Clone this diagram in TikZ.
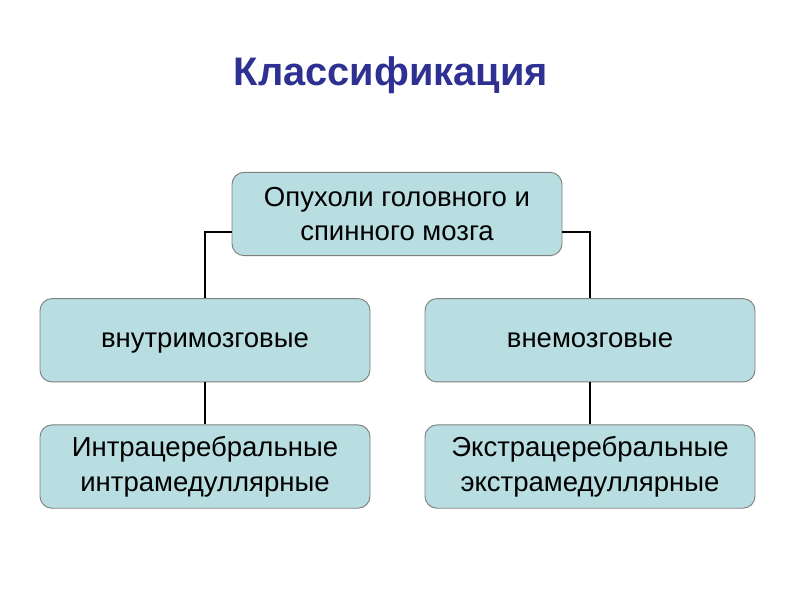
\documentclass[tikz,border=0pt]{standalone}
\usepackage{fontspec}
\setmainfont{Liberation Sans}
\usetikzlibrary{positioning}

\definecolor{boxfill}{RGB}{184,222,225}
\definecolor{boxline}{RGB}{128,128,128}
\definecolor{titleblue}{RGB}{46,49,146}

\tikzset{
    klass/.style={draw=boxline, fill=boxfill, line width=0.8pt, rounded corners=0.36cm,
        minimum width=9.9cm, minimum height=2.5cm, align=center,
        font=\fontsize{23.5}{29.5}\selectfont},
    oneline/.style={text depth=0pt},
    link/.style={line width=1.2pt, black}
}

\begin{document}
\begin{tikzpicture}
    \useasboundingbox (0,0) rectangle (24,-18);
    %% title
    \node[text=titleblue, font=\fontsize{34}{40}\selectfont\bfseries] (title) at (11.73,-2.26) {Классификация};
    %% boxes
    \node[klass] (tumor) at (11.91,-6.42) {Опухоли головного и\\спинного мозга};
    \node[klass, oneline, below=1.26cm of tumor, xshift=-5.76cm] (intra) {внутримозговые};
    \node[klass, oneline, below=1.26cm of tumor, xshift=5.79cm] (extra) {внемозговые};
    \node[klass, below=1.26cm of intra] (intrac) {Интрацеребральные\\интрамедуллярные};
    \node[klass, below=1.26cm of extra] (extrac) {Экстрацеребральные\\экстрамедуллярные};
    % connectors
    \draw[link] ([yshift=-0.54cm]tumor.west) -| (intra.north);
    \draw[link] ([yshift=-0.54cm]tumor.east) -| (extra.north);
    \draw[link] (intra) -- (intrac);
    \draw[link] (extra) -- (extrac);
\end{tikzpicture}
\end{document}
